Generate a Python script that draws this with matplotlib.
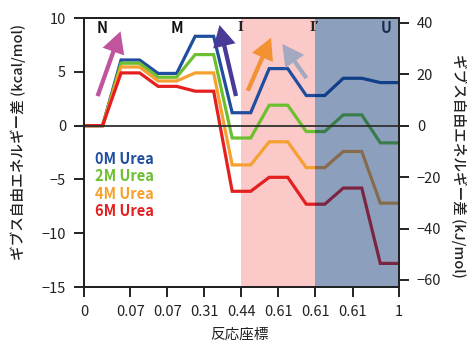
import matplotlib.pyplot as plt
from matplotlib.patches import FancyArrowPatch
import numpy as np

plt.rcParams['font.family'] = ['Noto Sans CJK JP', 'DejaVu Sans']
plt.rcParams['axes.unicode_minus'] = True

# state energies (kcal/mol), states N ... U along the reaction coordinate
states = np.arange(9)
e_0M = [0, 6.1, 4.85, 8.3, 1.2, 5.3, 2.8, 4.4, 4.0]
e_2M = [0, 5.8, 4.5, 6.6, -1.15, 1.9, -0.55, 1.0, -1.6]
e_4M = [0, 5.45, 4.15, 4.9, -3.65, -1.5, -3.9, -2.4, -7.2]
e_6M = [0, 4.9, 3.65, 3.2, -6.1, -4.8, -7.3, -5.8, -12.8]
series_names = ['0M Urea', '2M Urea', '4M Urea', '6M Urea']
colors = ['#1f4e9e', '#6cbf2f', '#f5a030', '#e3201f']

xtick_pos = [-0.25, 1, 2, 3, 4, 5, 6, 7, 8.25]
xtick_lab = ['0', '0.07', '0.07', '0.31', '0.44', '0.61', '0.61', '0.61', '1']

state_labels = ['N', 'M', 'I', 'I′', 'U']
state_label_x = [0.1, 2.1, 3.9, 5.85, 7.75]

# arrows (tail -> head) in data units
arrows = [((0.09, 2.5), (0.76, 9.0), '#c0559e'),
          ((3.87, 2.5), (3.39, 9.6), '#4a3a98'),
          ((4.14, 3.0), (4.83, 8.4), '#f39233'),
          ((5.80, 4.2), (5.06, 7.8), '#a3a9bf')]

KJ = 4.184

fig = plt.figure(figsize=(4.67, 3.43), dpi=100)
ax = fig.add_axes([0.18, 0.163, 0.674, 0.7845])

ax.axvspan(4, 6, color='#fcc9c9', zorder=0, lw=0)
ax.axvspan(6, 8.25, color='#002c6f', alpha=0.45, zorder=3, lw=0)

def step_line(vals):
    xs, ys = [], []
    for k, v in zip(states, vals):
        xs += [k - 0.25, k + 0.25]
        ys += [v, v]
    return xs, ys

for vals, c in zip([e_0M, e_2M, e_4M, e_6M], colors):
    xs, ys = step_line(vals)
    ax.plot(xs, ys, color=c, lw=2.3, zorder=2, solid_joinstyle='miter')

ax.axhline(0, color='#303030', lw=1.3, zorder=4)

for (t, h, c) in arrows:
    ar = FancyArrowPatch(t, h, arrowstyle='simple,head_width=1.5,head_length=1.4,tail_width=0.28',
                         mutation_scale=11, color=c, lw=0, zorder=5)
    ax.add_patch(ar)

for i, (lab, c) in enumerate(zip(series_names, colors)):
    ax.text(0.035, 0.476 - i * 0.065, lab, transform=ax.transAxes, color=c,
            fontsize=10.5, fontweight='bold', va='center', ha='left')

for lab, xx in zip(state_labels, state_label_x):
    if lab.startswith('I'):
        ax.text(xx, 9.1, lab, fontsize=11, fontweight='bold', family='Liberation Serif',
                ha='left', va='center', color='#222222', zorder=6)
    else:
        ax.text(xx, 9.1, lab, fontsize=10.5, fontweight='bold', ha='left', va='center',
                color='#1a2a4a' if lab == 'U' else '#111111', zorder=6)

ax.set_xlim(-0.25, 8.25)
ax.set_ylim(-15, 10)
ax.set_xticks(xtick_pos)
ax.set_xticklabels(xtick_lab)
ax.set_yticks([-15, -10, -5, 0, 5, 10])
ax.tick_params(direction='out', length=7, width=1.4, labelsize=10.5, colors='#222222', pad=6)

ax2 = ax.twinx()
ax2.set_ylim(-15 * KJ, 10 * KJ)
ax2.set_yticks([-60, -40, -20, 0, 20, 40])
ax2.tick_params(direction='out', length=7, width=1.4, labelsize=10.5, colors='#222222', pad=6)

for a in (ax, ax2):
    for sp in a.spines.values():
        sp.set_linewidth(1.4)
        sp.set_color('#222222')

fig.text(18 / 467, 1 - 142 / 343, 'ギブス自由エネルギー差 (kcal/mol)', rotation=90,
         fontsize=10.5, fontweight='medium', ha='center', va='center', color='#222222')
fig.text(459 / 467, 1 - 166 / 343, 'ギブス自由エネルギー差 (kJ/mol)', rotation=270,
         fontsize=10.5, fontweight='medium', ha='center', va='center', color='#222222')
fig.text(240 / 467, 1.5 / 343, '反応座標', fontsize=10.5, ha='center', va='bottom',
         color='#222222')

fig.savefig('out.png', dpi=100)
